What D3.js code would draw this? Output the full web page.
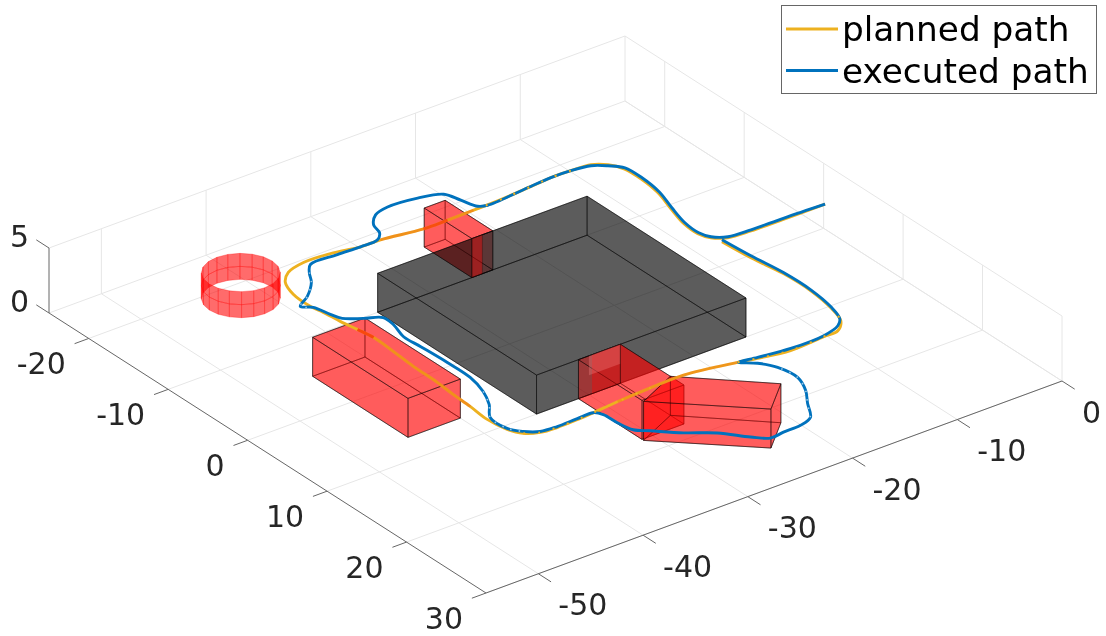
<!DOCTYPE html>
<html>
<head>
<meta charset="utf-8">
<script src="https://cdn.jsdelivr.net/npm/d3@7"></script>
<style>html,body{margin:0;padding:0;background:#fff}svg{display:block;filter:blur(0.35px)}text{font-family:"DejaVu Sans";}</style>
</head>
<body>
<svg id="chart" width="1106" height="636"></svg>
<script>
// ---- data -------------------------------------------------------------
const xDomain = [-55, 0];
const yDomain = [-25, 30];
const zDomain = [0, 5];
const xTicks = [-50, -40, -30, -20, -10, 0];
const yTicks = [-20, -10, 0, 10, 20, 30];
const zTicks = [0, 5];
const pathZ = 2.1;
// [x, y]
const plannedPath = [[-0.22,0.47],[-4.11,0.44],[-7.24,0.40],[-9.29,0.19],[-10.32,-0.59],[-10.73,-1.69],[-10.63,-3.57],[-10.00,-6.04],[-9.27,-8.63],[-8.98,-11.16],[-9.06,-13.18],[-9.65,-14.42],[-10.67,-15.21],[-12.46,-15.39],[-14.33,-15.44],[-15.68,-15.31],[-19.15,-15.02],[-22.10,-14.92],[-24.61,-14.88],[-26.91,-14.88],[-30.55,-15.50],[-32.42,-15.55],[-34.89,-16.08],[-37.37,-16.21],[-39.23,-15.67],[-40.35,-14.57],[-41.00,-12.71],[-41.11,-10.43],[-40.89,-9.08],[-40.71,-7.18],[-40.44,-5.39],[-40.22,-3.66],[-40.34,-1.00],[-40.54,1.79],[-40.60,4.88],[-40.78,7.11],[-40.88,9.39],[-41.08,11.80],[-40.81,13.96],[-40.22,15.20],[-39.10,15.86],[-37.60,16.03],[-35.64,15.97],[-34.01,15.84],[-31.52,15.58],[-28.20,15.37],[-24.98,15.29],[-20.49,16.18],[-18.90,16.60],[-16.16,17.14],[-12.83,16.93],[-11.42,16.84],[-10.30,15.74],[-9.68,13.66],[-9.28,10.62],[-9.31,7.26],[-9.79,3.75],[-10.03,0.42]];
const executedPath = [[-0.22,0.47],[-4.02,0.31],[-7.14,0.27],[-9.19,0.07],[-10.22,-0.71],[-10.58,-1.77],[-10.47,-3.66],[-9.85,-6.12],[-9.11,-8.70],[-8.82,-11.23],[-8.91,-13.26],[-9.75,-14.29],[-10.77,-15.08],[-12.46,-15.39],[-14.33,-15.44],[-17.09,-15.20],[-20.78,-14.89],[-21.48,-15.23],[-21.93,-16.76],[-22.40,-18.29],[-24.35,-19.00],[-27.02,-19.27],[-28.49,-18.84],[-29.55,-17.69],[-29.95,-16.41],[-30.73,-15.64],[-32.42,-15.55],[-34.57,-15.63],[-37.14,-15.64],[-37.96,-14.70],[-38.78,-13.36],[-40.34,-11.81],[-41.71,-10.89],[-41.02,-10.16],[-40.65,-8.51],[-40.31,-7.46],[-39.04,-6.49],[-37.74,-5.68],[-37.79,-4.35],[-38.32,-2.39],[-38.23,-0.37],[-38.11,2.87],[-38.14,5.79],[-38.68,8.13],[-39.54,10.02],[-40.71,11.69],[-40.72,13.83],[-40.03,14.96],[-39.01,15.74],[-37.51,15.91],[-35.54,15.84],[-34.01,15.84],[-33.59,16.55],[-33.50,18.19],[-33.20,19.80],[-32.27,20.71],[-30.45,22.49],[-28.40,24.06],[-26.78,26.09],[-25.67,27.14],[-24.32,27.00],[-22.63,26.92],[-21.27,26.38],[-20.13,24.51],[-19.02,22.80],[-18.28,20.82],[-18.54,18.65],[-19.37,17.22],[-20.43,16.22],[-18.81,16.48],[-15.96,16.89],[-12.74,16.81],[-10.95,16.22],[-10.17,15.44],[-9.58,13.54],[-9.19,10.50],[-9.21,7.14],[-9.60,3.50],[-9.84,0.17]];
// footprints [x, y] and heights
const grayBlock = [[-35,-10],[-15,-10],[-15,10],[-35,10]];
const redBlockBack = [[-26,-16],[-24,-16],[-24,-10],[-26,-10]];
const redBlockLeft = [[-45,-5],[-40,-5],[-40,7],[-45,7]];
const redBlockFront = [[-31,10],[-27,10],[-27,18],[-31,18]];
const redBlockSlant = [[-31,18.2],[-27,16.3],[-21,22.3],[-24,25]];
const blockHeight = 3;
const ring = {x:-42, y:-18, r:3, z:[0,1,2], segments:20};
const legendLabels = ["planned path", "executed path"];
const colors = {planned:"#EDB120", executed:"#0072BD", text:"#262626", axis:"#666666", grid:"#e6e6e6"};
// overlapping-surface patches: [xa, xb, y, za, zb]
const patchBackStrip = [-26,-25,-10,0,3];
const patchFrontFace = [-29.7,-27,10,0,3];
const patchFrontLight = [-30,-27,10,1.5,3];
// where the two paths share a stretch: index ranges along each path
const plannedFlecks = [[13,17],[39,45],[47,53]];
const executedFlecks = [[29,33],[43,47],[62,66]];
const plannedTints = [[17,20,0.18],[18,19,0.45],[30,36,0.18],[30,31,0.5],[44,47,0.15]];

// ---- projection through d3 scales --------------------------------------
const origin = [49, 313];
const xToH = d3.scaleLinear().domain(xDomain).range([0, 576]);
const xToV = d3.scaleLinear().domain(xDomain).range([0, -212]);
const yToH = d3.scaleLinear().domain(yDomain).range([0, 437]);
const yToV = d3.scaleLinear().domain(yDomain).range([0, 280]);
const zToV = d3.scaleLinear().domain(zDomain).range([0, -65]);
const P = (x,y,z=0)=>[origin[0]+xToH(x)+yToH(y), origin[1]+xToV(x)+yToV(y)+zToV(z)];

const svg = d3.select("#chart");
const poly = d3.line();
const smooth = d3.line().curve(d3.curveCatmullRom.alpha(0.5));

function seg(g,a,b,color,w){
  g.append("line").attr("x1",a[0]).attr("y1",a[1]).attr("x2",b[0]).attr("y2",b[1])
    .attr("stroke",color).attr("stroke-width",w);
}
// grid
const grid = svg.append("g");
const [x0,x1]=xDomain,[y0,y1]=yDomain,[z0,z1]=zDomain;
xTicks.forEach(t=>{
  seg(grid,P(t,y0,z0),P(t,y1,z0),colors.grid,1);
  seg(grid,P(t,y0,z0),P(t,y0,z1),colors.grid,1);
});
yTicks.forEach(t=>{
  seg(grid,P(x0,t,z0),P(x1,t,z0),colors.grid,1);
  seg(grid,P(x1,t,z0),P(x1,t,z1),colors.grid,1);
});
zTicks.forEach(t=>{
  seg(grid,P(x0,y0,t),P(x1,y0,t),colors.grid,1);
  seg(grid,P(x1,y0,t),P(x1,y1,t),colors.grid,1);
});
// axes
const axes = svg.append("g");
seg(axes,P(x0,y0,z0),P(x0,y1,z0),colors.axis,1);
seg(axes,P(x0,y1,z0),P(x1,y1,z0),colors.axis,1);
seg(axes,P(x0,y0,z0),P(x0,y0,z1),colors.axis,1);
yTicks.forEach(t=>{
  const a=P(x0,t,z0),b=P(x0-1.35,t,z0);
  seg(axes,a,b,colors.axis,1);
  axes.append("text").attr("x",a[0]-23).attr("y",a[1]+36).attr("text-anchor","end")
    .attr("font-size",30).attr("fill",colors.text).text(t);
});
xTicks.forEach(t=>{
  const a=P(t,y1,z0),b=P(t,y1+1.6,z0);
  seg(axes,a,b,colors.axis,1);
  axes.append("text").attr("x",a[0]+20).attr("y",a[1]+41.5).attr("text-anchor","start")
    .attr("font-size",30).attr("fill",colors.text).text(t);
});
zTicks.forEach(t=>{
  const a=P(x0,y0,t),b=P(x0,y0-1.6,t);
  seg(axes,a,b,colors.axis,1);
  axes.append("text").attr("x",a[0]-20).attr("y",a[1]-1).attr("text-anchor","end")
    .attr("font-size",30).attr("fill",colors.text).text(t);
});

// solids
const layer = ()=>svg.append("g");
function face(g,pts,fill,op,edge){
  g.append("path").attr("d",poly(pts)+"Z").attr("fill",fill).attr("fill-opacity",op)
    .attr("stroke",edge).attr("stroke-opacity",edge==="none"?0:0.5).attr("stroke-width",0.9).attr("stroke-linejoin","round");
}
function prismFaces(fp,h){
  const fs=[];
  fs.push({k:"bottom",p:fp.map(d=>P(d[0],d[1],0))});
  fp.forEach((d,i)=>{const e=fp[(i+1)%fp.length];
    fs.push({k:"side"+i,p:[P(d[0],d[1],0),P(e[0],e[1],0),P(e[0],e[1],h),P(d[0],d[1],h)]});});
  fs.push({k:"top",p:fp.map(d=>P(d[0],d[1],h))});
  return fs;
}
const patchPts = ([xa,xb,y,za,zb])=>[P(xa,y,za),P(xb,y,za),P(xb,y,zb),P(xa,y,zb)];
const RED="#ff0000", BLACK="#000000", A=0.4;
function drawPrism(g,fp,fill,filter){
  prismFaces(fp,blockHeight).filter(filter||(()=>true)).forEach(f=>face(g,f.p,fill,A,"#000"));
}
// ring
const ringG = layer();
const ringAngles = d3.range(ring.segments).map(i=>i/ring.segments*2*Math.PI);
d3.pairs(ring.z).forEach(([za,zb])=>{
  ringAngles.forEach(t=>{
    const u=t+2*Math.PI/ring.segments;
    const c=(a,z)=>P(ring.x+ring.r*Math.cos(a),ring.y+ring.r*Math.sin(a),z);
    ringG.append("path").attr("d",poly([c(t,za),c(u,za),c(u,zb),c(t,zb)])+"Z")
      .attr("fill",RED).attr("fill-opacity",0.58)
      .attr("stroke",RED).attr("stroke-opacity",0.3).attr("stroke-width",1);
  });
});
// blocks and paths, in painter order
const backG=layer();
drawPrism(backG,redBlockBack,RED,f=>f.k!=="side2");
drawPrism(layer(),grayBlock,BLACK);
const backOver=layer();
face(backOver,patchPts(patchBackStrip),RED,A,"none");
face(backOver,prismFaces(redBlockBack,blockHeight).find(f=>f.k==="side2").p,"none",0,"#000");
seg(backOver,P(patchBackStrip[1],patchBackStrip[2],0),P(patchBackStrip[1],patchBackStrip[2],3),"rgba(0,0,0,0.35)",0.8);

const reds=layer();
drawPrism(reds,redBlockLeft,RED);
drawPrism(reds,redBlockFront,RED,f=>f.k!=="side0");
face(reds,patchPts(patchFrontFace),RED,A,"none");
face(reds,patchPts(patchFrontLight),"#ff9090",0.3,"none");
face(reds,prismFaces(redBlockFront,blockHeight).find(f=>f.k==="side0").p,"none",0,"#000");
drawPrism(reds,redBlockSlant,RED);

const pathLine=d=>smooth(d.map(p=>P(p[0],p[1],pathZ)));
const paths=layer();
const stroke=(g,d,color,w,dash,op)=>g.append("path").attr("d",pathLine(d)).attr("fill","none")
  .attr("stroke",color).attr("stroke-width",w).attr("stroke-dasharray",dash||null).attr("stroke-opacity",op==null?1:op);
// length along a path up to one of its points, so a stretch can be picked out of the same curve
function lengthTo(d,i){
  const tmp=stroke(paths,d.slice(0,i+1),"none",0);
  const L=tmp.node().getTotalLength(); tmp.remove(); return L;
}
stroke(paths,plannedPath,colors.planned,2.9);
plannedTints.forEach(([i,j,o])=>{
  const a=lengthTo(plannedPath,i), b=lengthTo(plannedPath,j);
  stroke(paths,plannedPath,"#ff0000",2.9,`0 ${a} ${b-a} 100000`,o);
});
stroke(paths,executedPath,colors.executed,2.9);
executedFlecks.forEach(([i,j])=>stroke(paths,executedPath.slice(i,j+1),"#9cc8e6",1.6,"1.5 7"));
plannedFlecks.forEach(([i,j])=>stroke(paths,plannedPath.slice(i,j+1),colors.planned,2,"2 13"));

// legend
const lg=svg.append("g");
lg.append("rect").attr("x",781.5).attr("y",5.5).attr("width",315).attr("height",88).attr("fill","#fff").attr("stroke","#666").attr("stroke-width",1);
legendLabels.forEach((t,i)=>{
  const yy=29+i*41.5;
  seg(lg,[786,yy],[838,yy],i?colors.executed:colors.planned,2.9);
  lg.append("text").attr("x",842).attr("y",yy+12).attr("font-size",34.3).attr("fill","#000").text(t);
});
</script>
</body>
</html>
